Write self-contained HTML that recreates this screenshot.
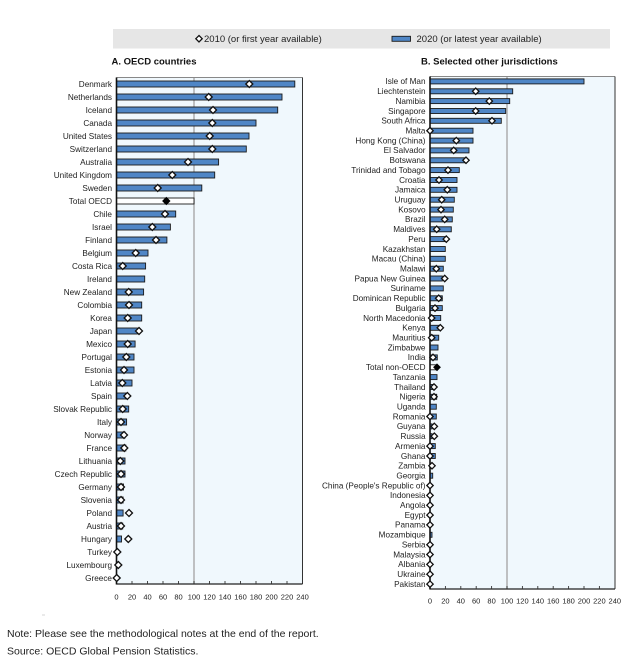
<!DOCTYPE html>
<html><head><meta charset="utf-8"><style>
html,body{margin:0;padding:0;background:#fff;}
svg{display:block;font-family:"Liberation Sans",Arial,sans-serif;}
.l{font-size:8.2px;fill:#222;text-anchor:end;}
.t{font-size:7.5px;fill:#222;text-anchor:middle;}
.b{fill:#4f86c6;stroke:#1a1a1a;stroke-width:0.9;}
.w{fill:#fff;stroke:#1a1a1a;stroke-width:0.9;}
.m{fill:#fff;stroke:#111;stroke-width:1.3;}
.k{fill:#000;stroke:#000;stroke-width:1;}
</style></head><body>
<svg width="641" height="660" viewBox="0 0 641 660" xmlns="http://www.w3.org/2000/svg">
<defs>
<polygon id="d" points="0,-3.5 3.5,0 0,3.5 -3.5,0"/>
<polygon id="e" points="0,-3.2 3.2,0 0,3.2 -3.2,0"/>
</defs>
<!-- legend -->
<rect x="113" y="29" width="497" height="19.5" fill="#e6e6e6"/>
<use href="#e" x="199" y="38.7" class="m"/>
<text x="204" y="42.2" font-size="9.5" fill="#222">2010 (or first year available)</text>
<rect x="392" y="36.3" width="18.5" height="5" class="b"/>
<text x="416.5" y="42.2" font-size="9.5" fill="#222">2020 (or latest year available)</text>
<text x="111.5" y="64.5" font-size="9.5" font-weight="bold" fill="#111">A. OECD countries</text>
<text x="421" y="64.5" font-size="9.5" font-weight="bold" fill="#111">B. Selected other jurisdictions</text>

<!-- LEFT PANEL -->
<rect x="116.5" y="77.5" width="186" height="506.5" fill="#f0f8fd"/>
<line x1="194" y1="77.5" x2="194" y2="584" stroke="#a8a8a8" stroke-width="1.4"/>
<line x1="116.5" y1="77.5" x2="302.5" y2="77.5" stroke="#888" stroke-width="1"/>
<line x1="302.5" y1="77.5" x2="302.5" y2="584" stroke="#333" stroke-width="1"/>
<line x1="116.5" y1="584" x2="302.5" y2="584" stroke="#222" stroke-width="1.2"/>
<g stroke="#333" stroke-width="0.9">
<line x1="132" y1="581" x2="132" y2="584"/><line x1="147.5" y1="581" x2="147.5" y2="584"/><line x1="163" y1="581" x2="163" y2="584"/><line x1="178.5" y1="581" x2="178.5" y2="584"/><line x1="194" y1="581" x2="194" y2="584"/><line x1="209.5" y1="581" x2="209.5" y2="584"/><line x1="225" y1="581" x2="225" y2="584"/><line x1="240.5" y1="581" x2="240.5" y2="584"/><line x1="256" y1="581" x2="256" y2="584"/><line x1="271.5" y1="581" x2="271.5" y2="584"/><line x1="287" y1="581" x2="287" y2="584"/>
</g>
<g>
<rect class="b" x="116.5" y="81" width="178.3" height="6"/>
<rect class="b" x="116.5" y="94" width="165.5" height="6"/>
<rect class="b" x="116.5" y="107" width="161.2" height="6"/>
<rect class="b" x="116.5" y="120" width="139.5" height="6"/>
<rect class="b" x="116.5" y="133" width="132.5" height="6"/>
<rect class="b" x="116.5" y="146" width="129.8" height="6"/>
<rect class="b" x="116.5" y="159" width="102.1" height="6"/>
<rect class="b" x="116.5" y="172" width="98.2" height="6"/>
<rect class="b" x="116.5" y="185" width="85.3" height="6"/>
<rect class="w" x="116.5" y="198" width="77.5" height="6"/>
<rect class="b" x="116.5" y="211" width="59.2" height="6"/>
<rect class="b" x="116.5" y="224" width="53.9" height="6"/>
<rect class="b" x="116.5" y="237" width="50.4" height="6"/>
<rect class="b" x="116.5" y="250" width="31.5" height="6"/>
<rect class="b" x="116.5" y="263" width="29.1" height="6"/>
<rect class="b" x="116.5" y="276" width="28.2" height="6"/>
<rect class="b" x="116.5" y="289" width="27.1" height="6"/>
<rect class="b" x="116.5" y="302" width="25.2" height="6"/>
<rect class="b" x="116.5" y="315" width="25.2" height="6"/>
<rect class="b" x="116.5" y="328" width="20.9" height="6"/>
<rect class="b" x="116.5" y="341" width="18.6" height="6"/>
<rect class="b" x="116.5" y="354" width="17.5" height="6"/>
<rect class="b" x="116.5" y="367" width="17.5" height="6"/>
<rect class="b" x="116.5" y="380" width="15.5" height="6"/>
<rect class="b" x="116.5" y="393" width="9.3" height="6"/>
<rect class="b" x="116.5" y="406" width="12.2" height="6"/>
<rect class="b" x="116.5" y="419" width="10.1" height="6"/>
<rect class="b" x="116.5" y="432" width="8.5" height="6"/>
<rect class="b" x="116.5" y="445" width="9.3" height="6"/>
<rect class="b" x="116.5" y="458" width="8.5" height="6"/>
<rect class="b" x="116.5" y="471" width="8.5" height="6"/>
<rect class="b" x="116.5" y="484" width="7" height="6"/>
<rect class="b" x="116.5" y="497" width="6.6" height="6"/>
<rect class="b" x="116.5" y="510" width="6.6" height="6"/>
<rect class="b" x="116.5" y="523" width="6.2" height="6"/>
<rect class="b" x="116.5" y="536" width="5" height="6"/>
</g>
<line x1="116.5" y1="77.5" x2="116.5" y2="584.5" stroke="#111" stroke-width="1.6"/>
<g>
<use href="#d" class="m" x="249.3" y="84"/>
<use href="#d" class="m" x="208.7" y="97"/>
<use href="#d" class="m" x="213" y="110"/>
<use href="#d" class="m" x="212.3" y="123"/>
<use href="#d" class="m" x="209.7" y="136"/>
<use href="#d" class="m" x="212.3" y="149"/>
<use href="#d" class="m" x="188" y="162"/>
<use href="#d" class="m" x="172.3" y="175"/>
<use href="#d" class="m" x="157.7" y="188"/>
<use href="#d" class="k" x="166.3" y="201"/>
<use href="#d" class="m" x="165" y="214"/>
<use href="#d" class="m" x="152.3" y="227"/>
<use href="#d" class="m" x="156" y="240"/>
<use href="#d" class="m" x="135.7" y="253"/>
<use href="#d" class="m" x="122.7" y="266"/>
<use href="#d" class="m" x="128.7" y="292"/>
<use href="#d" class="m" x="129" y="305"/>
<use href="#d" class="m" x="127.7" y="318"/>
<use href="#d" class="m" x="139" y="331"/>
<use href="#d" class="m" x="127.7" y="344"/>
<use href="#d" class="m" x="126.3" y="357"/>
<use href="#d" class="m" x="124" y="370"/>
<use href="#d" class="m" x="122.3" y="383"/>
<use href="#d" class="m" x="127.3" y="396"/>
<use href="#d" class="m" x="122.7" y="409"/>
<use href="#d" class="m" x="121" y="422"/>
<use href="#d" class="m" x="124" y="435"/>
<use href="#d" class="m" x="124.3" y="448"/>
<use href="#d" class="m" x="120.3" y="461"/>
<use href="#d" class="m" x="121" y="474"/>
<use href="#d" class="m" x="121" y="487"/>
<use href="#d" class="m" x="121" y="500"/>
<use href="#d" class="m" x="129" y="513"/>
<use href="#d" class="m" x="121" y="526"/>
<use href="#d" class="m" x="128.3" y="539"/>
<use href="#d" class="m" x="117.3" y="552"/>
<use href="#d" class="m" x="118.3" y="565"/>
<use href="#d" class="m" x="116.7" y="578"/>
</g>
<g class="l">
<text x="112" y="86.8">Denmark</text>
<text x="112" y="99.8">Netherlands</text>
<text x="112" y="112.8">Iceland</text>
<text x="112" y="125.8">Canada</text>
<text x="112" y="138.8">United States</text>
<text x="112" y="151.8">Switzerland</text>
<text x="112" y="164.8">Australia</text>
<text x="112" y="177.8">United Kingdom</text>
<text x="112" y="190.8">Sweden</text>
<text x="112" y="203.8">Total OECD</text>
<text x="112" y="216.8">Chile</text>
<text x="112" y="229.8">Israel</text>
<text x="112" y="242.8">Finland</text>
<text x="112" y="255.8">Belgium</text>
<text x="112" y="268.8">Costa Rica</text>
<text x="112" y="281.8">Ireland</text>
<text x="112" y="294.8">New Zealand</text>
<text x="112" y="307.8">Colombia</text>
<text x="112" y="320.8">Korea</text>
<text x="112" y="333.8">Japan</text>
<text x="112" y="346.8">Mexico</text>
<text x="112" y="359.8">Portugal</text>
<text x="112" y="372.8">Estonia</text>
<text x="112" y="385.8">Latvia</text>
<text x="112" y="398.8">Spain</text>
<text x="112" y="411.8">Slovak Republic</text>
<text x="112" y="424.8">Italy</text>
<text x="112" y="437.8">Norway</text>
<text x="112" y="450.8">France</text>
<text x="112" y="463.8">Lithuania</text>
<text x="112" y="476.8">Czech Republic</text>
<text x="112" y="489.8">Germany</text>
<text x="112" y="502.8">Slovenia</text>
<text x="112" y="515.8">Poland</text>
<text x="112" y="528.8">Austria</text>
<text x="112" y="541.8">Hungary</text>
<text x="112" y="554.8">Turkey</text>
<text x="112" y="567.8">Luxembourg</text>
<text x="112" y="580.8">Greece</text>
</g>
<g class="t">
<text x="116.5" y="599.5">0</text><text x="132" y="599.5">20</text><text x="147.5" y="599.5">40</text><text x="163" y="599.5">60</text><text x="178.5" y="599.5">80</text><text x="194" y="599.5">100</text><text x="209.5" y="599.5">120</text><text x="225" y="599.5">140</text><text x="240.5" y="599.5">160</text><text x="256" y="599.5">180</text><text x="271.5" y="599.5">200</text><text x="287" y="599.5">220</text><text x="302.5" y="599.5">240</text>
</g>

<!-- RIGHT PANEL -->
<rect x="430" y="76.5" width="185" height="512.5" fill="#f0f8fd"/>
<line x1="507" y1="76.5" x2="507" y2="589" stroke="#a8a8a8" stroke-width="1.4"/>
<line x1="430" y1="76.5" x2="615" y2="76.5" stroke="#888" stroke-width="1"/>
<line x1="615" y1="76.5" x2="615" y2="589" stroke="#333" stroke-width="1"/>
<line x1="430" y1="589" x2="615" y2="589" stroke="#222" stroke-width="1.2"/>
<g stroke="#333" stroke-width="0.9">
<line x1="445.4" y1="586" x2="445.4" y2="589"/><line x1="460.8" y1="586" x2="460.8" y2="589"/><line x1="476.2" y1="586" x2="476.2" y2="589"/><line x1="491.6" y1="586" x2="491.6" y2="589"/><line x1="507" y1="586" x2="507" y2="589"/><line x1="522.4" y1="586" x2="522.4" y2="589"/><line x1="537.8" y1="586" x2="537.8" y2="589"/><line x1="553.2" y1="586" x2="553.2" y2="589"/><line x1="568.6" y1="586" x2="568.6" y2="589"/><line x1="584" y1="586" x2="584" y2="589"/><line x1="599.4" y1="586" x2="599.4" y2="589"/>
</g>
<g>
<rect class="b" x="430" y="78.9" width="154" height="5"/>
<rect class="b" x="430" y="88.8" width="82.7" height="5"/>
<rect class="b" x="430" y="98.6" width="79.7" height="5"/>
<rect class="b" x="430" y="108.5" width="75.7" height="5"/>
<rect class="b" x="430" y="118.3" width="71.3" height="5"/>
<rect class="b" x="430" y="128.2" width="43" height="5"/>
<rect class="b" x="430" y="138.1" width="43" height="5"/>
<rect class="b" x="430" y="147.9" width="39" height="5"/>
<rect class="b" x="430" y="157.8" width="35.3" height="5"/>
<rect class="b" x="430" y="167.6" width="29.3" height="5"/>
<rect class="b" x="430" y="177.5" width="27" height="5"/>
<rect class="b" x="430" y="187.3" width="27" height="5"/>
<rect class="b" x="430" y="197.2" width="24.3" height="5"/>
<rect class="b" x="430" y="207.1" width="23.3" height="5"/>
<rect class="b" x="430" y="216.9" width="22.3" height="5"/>
<rect class="b" x="430" y="226.8" width="21.3" height="5"/>
<rect class="b" x="430" y="236.6" width="15.7" height="5"/>
<rect class="b" x="430" y="246.5" width="15.3" height="5"/>
<rect class="b" x="430" y="256.3" width="15.3" height="5"/>
<rect class="b" x="430" y="266.2" width="13.3" height="5"/>
<rect class="b" x="430" y="276" width="12.3" height="5"/>
<rect class="b" x="430" y="285.9" width="13.3" height="5"/>
<rect class="b" x="430" y="295.8" width="12.3" height="5"/>
<rect class="b" x="430" y="305.6" width="12.3" height="5"/>
<rect class="b" x="430" y="315.5" width="10.7" height="5"/>
<rect class="b" x="430" y="325.3" width="8.7" height="5"/>
<rect class="b" x="430" y="335.2" width="8.7" height="5"/>
<rect class="b" x="430" y="345" width="8" height="5"/>
<rect class="b" x="430" y="354.9" width="7.3" height="5"/>
<rect class="w" x="430" y="364.8" width="7.3" height="5"/>
<rect class="b" x="430" y="374.6" width="7" height="5"/>
<rect class="b" x="430" y="384.5" width="5" height="5"/>
<rect class="b" x="430" y="394.3" width="6.7" height="5"/>
<rect class="b" x="430" y="404.2" width="6.3" height="5"/>
<rect class="b" x="430" y="414" width="6.3" height="5"/>
<rect class="b" x="430" y="423.9" width="2" height="5"/>
<rect class="b" x="430" y="433.7" width="2" height="5"/>
<rect class="b" x="430" y="443.6" width="5.3" height="5"/>
<rect class="b" x="430" y="453.5" width="5.3" height="5"/>
<rect class="b" x="430" y="463.3" width="1.5" height="5"/>
<rect class="b" x="430" y="473.2" width="2.7" height="5"/>
<rect class="b" x="430" y="532.3" width="2" height="5"/>
</g>
<line x1="430" y1="76.5" x2="430" y2="589.5" stroke="#111" stroke-width="1.6"/>
<g>
<use href="#e" class="m" x="475.7" y="91.3"/>
<use href="#e" class="m" x="489.3" y="101.1"/>
<use href="#e" class="m" x="475.7" y="111"/>
<use href="#e" class="m" x="492" y="120.8"/>
<use href="#e" class="m" x="430" y="130.7"/>
<use href="#e" class="m" x="456.3" y="140.6"/>
<use href="#e" class="m" x="453.7" y="150.4"/>
<use href="#e" class="m" x="466" y="160.3"/>
<use href="#e" class="m" x="448" y="170.1"/>
<use href="#e" class="m" x="439" y="180"/>
<use href="#e" class="m" x="447.3" y="189.8"/>
<use href="#e" class="m" x="441.7" y="199.7"/>
<use href="#e" class="m" x="441" y="209.6"/>
<use href="#e" class="m" x="444.7" y="219.4"/>
<use href="#e" class="m" x="436.7" y="229.3"/>
<use href="#e" class="m" x="446.3" y="239.1"/>
<use href="#e" class="m" x="436.3" y="268.7"/>
<use href="#e" class="m" x="444.7" y="278.5"/>
<use href="#e" class="m" x="438.7" y="298.3"/>
<use href="#e" class="m" x="435" y="308.1"/>
<use href="#e" class="m" x="431.7" y="318"/>
<use href="#e" class="m" x="440.3" y="327.8"/>
<use href="#e" class="m" x="431.7" y="337.7"/>
<use href="#e" class="m" x="433" y="357.4"/>
<use href="#e" class="k" x="437" y="367.3"/>
<use href="#e" class="m" x="434" y="387"/>
<use href="#e" class="m" x="434" y="396.8"/>
<use href="#e" class="m" x="430" y="416.5"/>
<use href="#e" class="m" x="434.3" y="426.4"/>
<use href="#e" class="m" x="434.3" y="436.2"/>
<use href="#e" class="m" x="430" y="446.1"/>
<use href="#e" class="m" x="430" y="456"/>
<use href="#e" class="m" x="432" y="465.8"/>
<use href="#e" class="m" x="430" y="485.5"/>
<use href="#e" class="m" x="430" y="495.4"/>
<use href="#e" class="m" x="430" y="505.2"/>
<use href="#e" class="m" x="430" y="515.1"/>
<use href="#e" class="m" x="430" y="524.9"/>
<use href="#e" class="m" x="430" y="544.7"/>
<use href="#e" class="m" x="430" y="554.5"/>
<use href="#e" class="m" x="430" y="564.4"/>
<use href="#e" class="m" x="430" y="574.2"/>
<use href="#e" class="m" x="430" y="584.1"/>
</g>
<g class="l">
<text x="425.5" y="84.2">Isle of Man</text>
<text x="425.5" y="94.1">Liechtenstein</text>
<text x="425.5" y="103.9">Namibia</text>
<text x="425.5" y="113.8">Singapore</text>
<text x="425.5" y="123.6">South Africa</text>
<text x="425.5" y="133.5">Malta</text>
<text x="425.5" y="143.4">Hong Kong (China)</text>
<text x="425.5" y="153.2">El Salvador</text>
<text x="425.5" y="163.1">Botswana</text>
<text x="425.5" y="172.9">Trinidad and Tobago</text>
<text x="425.5" y="182.8">Croatia</text>
<text x="425.5" y="192.6">Jamaica</text>
<text x="425.5" y="202.5">Uruguay</text>
<text x="425.5" y="212.4">Kosovo</text>
<text x="425.5" y="222.2">Brazil</text>
<text x="425.5" y="232.1">Maldives</text>
<text x="425.5" y="241.9">Peru</text>
<text x="425.5" y="251.8">Kazakhstan</text>
<text x="425.5" y="261.6">Macau (China)</text>
<text x="425.5" y="271.5">Malawi</text>
<text x="425.5" y="281.3">Papua New Guinea</text>
<text x="425.5" y="291.2">Suriname</text>
<text x="425.5" y="301.1">Dominican Republic</text>
<text x="425.5" y="310.9">Bulgaria</text>
<text x="425.5" y="320.8">North Macedonia</text>
<text x="425.5" y="330.6">Kenya</text>
<text x="425.5" y="340.5">Mauritius</text>
<text x="425.5" y="350.3">Zimbabwe</text>
<text x="425.5" y="360.2">India</text>
<text x="425.5" y="370.1">Total non-OECD</text>
<text x="425.5" y="379.9">Tanzania</text>
<text x="425.5" y="389.8">Thailand</text>
<text x="425.5" y="399.6">Nigeria</text>
<text x="425.5" y="409.5">Uganda</text>
<text x="425.5" y="419.3">Romania</text>
<text x="425.5" y="429.2">Guyana</text>
<text x="425.5" y="439">Russia</text>
<text x="425.5" y="448.9">Armenia</text>
<text x="425.5" y="458.8">Ghana</text>
<text x="425.5" y="468.6">Zambia</text>
<text x="425.5" y="478.5">Georgia</text>
<text x="425.5" y="488.3">China (People's Republic of)</text>
<text x="425.5" y="498.2">Indonesia</text>
<text x="425.5" y="508">Angola</text>
<text x="425.5" y="517.9">Egypt</text>
<text x="425.5" y="527.7">Panama</text>
<text x="425.5" y="537.6">Mozambique</text>
<text x="425.5" y="547.5">Serbia</text>
<text x="425.5" y="557.3">Malaysia</text>
<text x="425.5" y="567.2">Albania</text>
<text x="425.5" y="577">Ukraine</text>
<text x="425.5" y="586.9">Pakistan</text>
</g>
<g class="t">
<text x="430" y="603.5">0</text><text x="445.4" y="603.5">20</text><text x="460.8" y="603.5">40</text><text x="476.2" y="603.5">60</text><text x="491.6" y="603.5">80</text><text x="507" y="603.5">100</text><text x="522.4" y="603.5">120</text><text x="537.8" y="603.5">140</text><text x="553.2" y="603.5">160</text><text x="568.6" y="603.5">180</text><text x="584" y="603.5">200</text><text x="599.4" y="603.5">220</text><text x="614.8" y="603.5">240</text>
</g>

<line x1="42" y1="615" x2="45" y2="615" stroke="#ccc" stroke-width="0.8"/>
<text x="7" y="637" font-size="10.5" fill="#222">Note: Please see the methodological notes at the end of the report.</text>
<text x="7" y="654.5" font-size="10.5" fill="#222">Source: OECD Global Pension Statistics.</text>
</svg>
</body></html>
